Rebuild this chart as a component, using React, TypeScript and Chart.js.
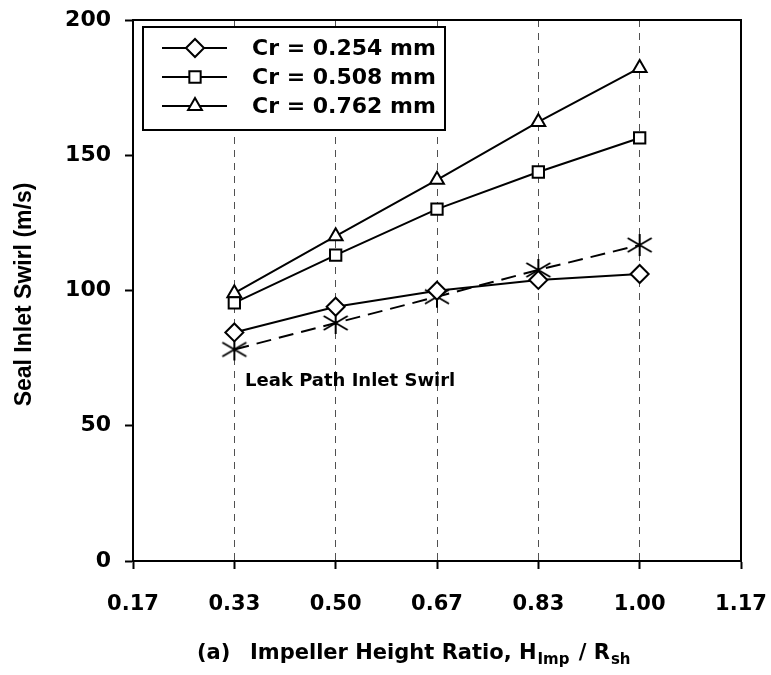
import React, { useEffect, useRef } from 'react';
import { Chart, registerables } from 'chart.js';
import { drawPoint } from 'chart.js/helpers';

Chart.register(...registerables);

// ---- data ----
const xValues = [2 / 6, 3 / 6, 4 / 6, 5 / 6, 6 / 6];
const xTickValues = [1 / 6, 2 / 6, 3 / 6, 4 / 6, 5 / 6, 6 / 6, 7 / 6];
const yTickValues = [0, 50, 100, 150, 200];
const seriesLabels = ['Cr = 0.254 mm', 'Cr = 0.508 mm', 'Cr = 0.762 mm', 'Leak Path Inlet Swirl'];
const cr0254 = [84.5, 94.0, 99.9, 103.9, 106.1];
const cr0508 = [95.4, 113.1, 130.1, 143.8, 156.4];
const cr0762 = [99.0, 120.1, 140.9, 162.3, 182.3];
const leakPath = [78.2, 88.0, 97.7, 107.6, 116.8];
const yTitle = 'Seal Inlet Swirl (m/s)';
const xTitleParts = ['(a)', 'Impeller Height Ratio, H', 'Imp', ' / R', 'sh'];
const leakLabelAnchor = { x: 0.351, y: 66.5 };

const WIDE = '"DejaVu Sans", "Liberation Sans", Arial, sans-serif';
const ARIAL = '"Liberation Sans", Arial, sans-serif';

function makeAsterisk(): HTMLCanvasElement {
  const c = document.createElement('canvas');
  c.width = 28;
  c.height = 24;
  const g = c.getContext('2d')!;
  g.strokeStyle = '#000';
  g.lineWidth = 2;
  const cx = 14, cy = 12;
  g.beginPath();
  g.moveTo(cx, cy - 11);
  g.lineTo(cx, cy + 11);
  g.moveTo(cx - 12, cy - 7);
  g.lineTo(cx + 12, cy + 7);
  g.moveTo(cx - 12, cy + 7);
  g.lineTo(cx + 12, cy - 7);
  g.stroke();
  return c;
}

const toPts = (ys: number[]) => ys.map((y, i) => ({ x: xValues[i], y }));

const decorPlugin = {
  id: 'decor',
  afterDraw(chart: any) {
    const { ctx, chartArea, scales } = chart;
    const { left, right, top, bottom } = chartArea;
    ctx.save();
    // top & right frame
    ctx.strokeStyle = '#000';
    ctx.lineWidth = 2;
    ctx.beginPath();
    ctx.moveTo(left, top);
    ctx.lineTo(right, top);
    ctx.lineTo(right, bottom);
    ctx.stroke();

    // legend box
    const lx = left + 10, ly = top + 7, lw = 302, lh = 103;
    ctx.fillStyle = '#fff';
    ctx.fillRect(lx, ly, lw, lh);
    ctx.lineWidth = 2;
    ctx.strokeRect(lx, ly, lw, lh);
    const rows = [ly + 21, ly + 50, ly + 79];
    for (let i = 0; i < 3; i++) {
      const ds = chart.data.datasets[i];
      const y = rows[i];
      ctx.strokeStyle = '#000';
      ctx.lineWidth = 2;
      ctx.beginPath();
      ctx.moveTo(lx + 19, y);
      ctx.lineTo(lx + 84, y);
      ctx.stroke();
      ctx.fillStyle = '#fff';
      ctx.strokeStyle = '#000';
      ctx.lineWidth = 2;
      drawPoint(ctx, { pointStyle: ds.pointStyle, rotation: 0, radius: ds.pointRadius, borderWidth: 2 }, lx + 52, y);
      ctx.fillStyle = '#000';
      ctx.font = 'bold 22px ' + WIDE;
      ctx.textAlign = 'left';
      ctx.textBaseline = 'middle';
      ctx.fillText(ds.label, lx + 109, y + 1);
    }

    // leak path annotation
    ctx.fillStyle = '#000';
    ctx.font = 'bold 18px ' + WIDE;
    ctx.textAlign = 'left';
    ctx.textBaseline = 'middle';
    ctx.fillText(seriesLabels[3], scales.x.getPixelForValue(leakLabelAnchor.x), scales.y.getPixelForValue(leakLabelAnchor.y));

    // y title
    ctx.save();
    ctx.translate(25, (top + bottom) / 2 + 4);
    ctx.rotate(-Math.PI / 2);
    ctx.font = 'bold 23px ' + ARIAL;
    ctx.textAlign = 'center';
    ctx.textBaseline = 'middle';
    ctx.fillText(yTitle, 0, 0);
    ctx.restore();

    // x title with subscripts
    const base = 659;
    const main = 'bold 21px ' + WIDE;
    const sub = 'bold 15px ' + WIDE;
    ctx.textAlign = 'left';
    ctx.textBaseline = 'alphabetic';
    ctx.font = main;
    ctx.fillText(xTitleParts[0], 197, base);
    let x = 250;
    ctx.fillText(xTitleParts[1], x, base);
    x += ctx.measureText(xTitleParts[1]).width + 1;
    ctx.font = sub;
    ctx.fillText(xTitleParts[2], x, base + 5);
    x += ctx.measureText(xTitleParts[2]).width + 2;
    ctx.font = main;
    ctx.fillText(xTitleParts[3], x, base);
    x += ctx.measureText(xTitleParts[3]).width + 1;
    ctx.font = sub;
    ctx.fillText(xTitleParts[4], x, base + 5);
    ctx.restore();
  },
};

export default function App() {
  const ref = useRef<HTMLCanvasElement | null>(null);
  useEffect(() => {
    if (!ref.current) return;
    const asterisk = makeAsterisk();
    const common = {
      borderColor: '#000',
      pointBackgroundColor: '#fff',
      pointBorderColor: '#000',
      pointBorderWidth: 2,
      borderWidth: 2,
      tension: 0,
      fill: false,
    };
    const chart = new Chart(ref.current, {
      type: 'line',
      data: {
        datasets: [
          { ...common, label: seriesLabels[0], data: toPts(cr0254), pointStyle: 'rectRot', pointRadius: 9 },
          { ...common, label: seriesLabels[1], data: toPts(cr0508), pointStyle: 'rect', pointRadius: 8 },
          { ...common, label: seriesLabels[2], data: toPts(cr0762), pointStyle: 'triangle', pointRadius: 8 },
          {
            ...common,
            label: seriesLabels[3],
            data: toPts(leakPath),
            pointStyle: asterisk as any,
            pointRadius: 10,
            borderWidth: 2,
            borderDash: [15, 8],
          },
        ],
      },
      options: {
        animation: false,
        responsive: false,
        maintainAspectRatio: false,
        layout: { padding: { top: 20, right: 30, left: 0, bottom: 0 } },
        plugins: { legend: { display: false }, tooltip: { enabled: false } },
        scales: {
          x: {
            type: 'linear',
            min: xTickValues[0],
            max: xTickValues[xTickValues.length - 1],
            afterBuildTicks: (s: any) => {
              s.ticks = xTickValues.map((v) => ({ value: v }));
            },
            afterFit: (s: any) => {
              s.height = 114;
              s.paddingLeft = 0;
              s.paddingRight = 0;
            },
            ticks: {
              autoSkip: false,
              maxRotation: 0,
              color: '#000',
              padding: 23,
              font: { family: WIDE, size: 21, weight: 'bold' },
              callback: (v: any) => Number(v).toFixed(2),
            },
            grid: {
              color: (c: any) => (c.index === 0 || c.index === xTickValues.length - 1 ? 'rgba(0,0,0,0)' : '#505050'),
              lineWidth: 1,
              tickColor: '#000',
              tickWidth: 2,
              tickLength: 8,
            },
            border: { color: '#000', width: 2, dash: [7, 6] },
          },
          y: {
            type: 'linear',
            min: yTickValues[0],
            max: yTickValues[yTickValues.length - 1],
            afterBuildTicks: (s: any) => {
              s.ticks = yTickValues.map((v) => ({ value: v }));
            },
            afterFit: (s: any) => {
              s.width = 133;
              s.paddingTop = 0;
              s.paddingBottom = 0;
            },
            ticks: {
              color: '#000',
              padding: 14,
              font: { family: WIDE, size: 22, weight: 'bold' },
            },
            grid: {
              drawOnChartArea: false,
              tickColor: '#000',
              tickWidth: 2,
              tickLength: 8,
            },
            border: { color: '#000', width: 2 },
          },
        },
      },
      plugins: [decorPlugin],
    } as any);
    return () => chart.destroy();
  }, []);
  return (
    <div style={{ position: 'fixed', left: 0, top: 0, width: 771, height: 675, background: '#fff' }}>
      <canvas ref={ref} width={771} height={675} style={{ width: 771, height: 675, display: 'block' }} />
    </div>
  );
}
